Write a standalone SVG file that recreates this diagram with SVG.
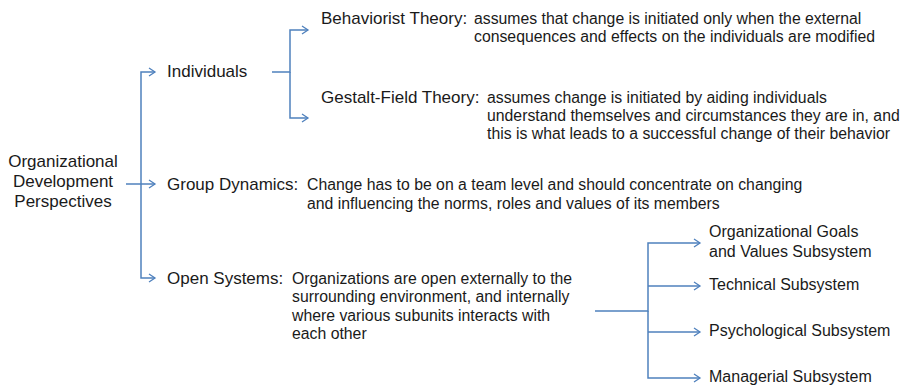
<svg xmlns="http://www.w3.org/2000/svg" width="912" height="386" viewBox="0 0 912 386">
  <style>
    .lbl { font-family: "Liberation Sans", Arial, Helvetica, sans-serif; font-size: 17px; fill: #1a1a1a; }
    .desc { font-family: "Liberation Sans", Arial, Helvetica, sans-serif; font-size: 15.8px; fill: #1a1a1a; }
    .sub { font-family: "Liberation Sans", Arial, Helvetica, sans-serif; font-size: 16px; fill: #1a1a1a; }
    .conn path { fill: none; stroke: #4f81bd; stroke-width: 1.5; }
  </style>
  <defs>
    <marker id="arr" markerUnits="userSpaceOnUse" markerWidth="10" markerHeight="12" refX="7" refY="5" orient="auto">
      <path d="M1,1 L7,5 L1,9" fill="none" stroke="#4f81bd" stroke-width="1.3"/>
    </marker>
  </defs>
  <rect width="912" height="386" fill="#ffffff"/>

  <g id="connectors" class="conn">
    <path d="M126,184 H155" marker-end="url(#arr)"/>
    <path d="M141,184 V72 H155" marker-end="url(#arr)"/>
    <path d="M141,184 V278 H155" marker-end="url(#arr)"/>
    <path d="M272,72 H290 V30 H308" marker-end="url(#arr)"/>
    <path d="M290,72 V118 H308" marker-end="url(#arr)"/>
    <path d="M595,311 H648 V243 H700" marker-end="url(#arr)"/>
    <path d="M648,311 V378 H700" marker-end="url(#arr)"/>
    <path d="M648,286 H700" marker-end="url(#arr)"/>
    <path d="M648,332 H700" marker-end="url(#arr)"/>
  </g>

  <g id="root">
    <text class="lbl" text-anchor="middle" x="63" y="167">Organizational</text>
    <text class="lbl" text-anchor="middle" x="63" y="187">Development</text>
    <text class="lbl" text-anchor="middle" x="63" y="207">Perspectives</text>
  </g>

  <g id="individuals">
    <text class="lbl" x="167" y="77">Individuals</text>
  </g>

  <g id="behaviorist">
    <text class="lbl" x="321" y="24">Behaviorist Theory:</text>
    <text class="desc" x="474" y="24">assumes that change is initiated only when the external</text>
    <text class="desc" x="474" y="42">consequences and effects on the individuals are modified</text>
  </g>

  <g id="gestalt">
    <text class="lbl" x="321" y="103">Gestalt-Field Theory:</text>
    <text class="desc" x="487" y="103">assumes change is initiated by aiding individuals</text>
    <text class="desc" x="487" y="121">understand themselves and circumstances they are in, and</text>
    <text class="desc" x="487" y="139">this is what leads to a successful change of their behavior</text>
  </g>

  <g id="group-dynamics">
    <text class="lbl" x="167" y="190">Group Dynamics:</text>
    <text class="desc" x="307" y="190">Change has to be on a team level and should concentrate on changing</text>
    <text class="desc" x="307" y="209">and influencing the norms, roles and values of its members</text>
  </g>

  <g id="open-systems">
    <text class="lbl" x="167" y="284">Open Systems:</text>
    <text class="desc" x="292" y="284">Organizations are open externally to the</text>
    <text class="desc" x="292" y="302">surrounding environment, and internally</text>
    <text class="desc" x="292" y="321">where various subunits interacts with</text>
    <text class="desc" x="292" y="339">each other</text>
  </g>

  <g id="goals-values">
    <text class="sub" x="709" y="237">Organizational Goals</text>
    <text class="sub" x="709" y="257">and Values Subsystem</text>
  </g>
  <g id="technical">
    <text class="sub" x="709" y="290">Technical Subsystem</text>
  </g>
  <g id="psychological">
    <text class="sub" x="709" y="336">Psychological Subsystem</text>
  </g>
  <g id="managerial">
    <text class="sub" x="709" y="382">Managerial Subsystem</text>
  </g>
</svg>
